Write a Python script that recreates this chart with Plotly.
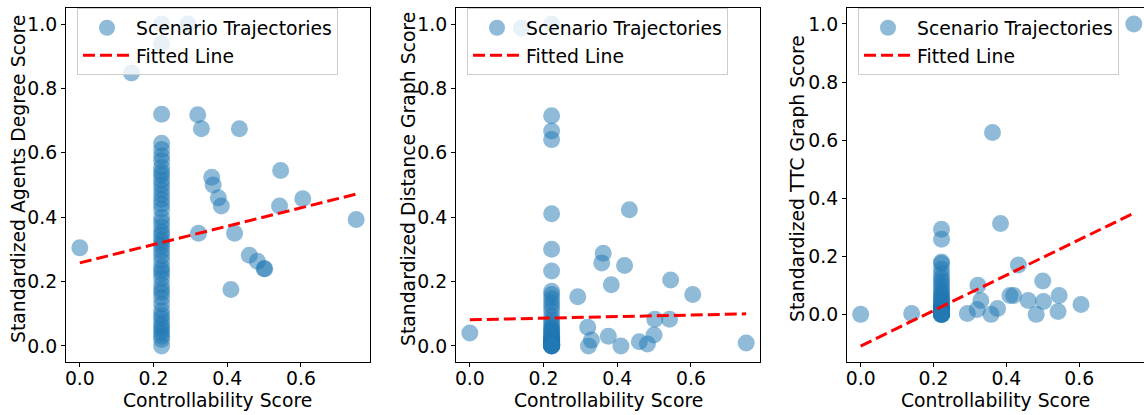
import plotly.graph_objects as go

# Controllability scores of the scenarios outside the dense column
controllability = [0.0, 0.14, 0.293, 0.32, 0.322, 0.33, 0.358, 0.362, 0.376, 0.384, 0.41,
                   0.42, 0.433, 0.46, 0.482, 0.5, 0.502, 0.542, 0.545, 0.605, 0.75]
agents_degree = [0.305, 0.848, 1.0, 0.718, 0.35, 0.675, 0.524, 0.5, 0.46, 0.435, 0.175,
                 0.35, 0.675, 0.282, 0.263, 0.24, 0.24, 0.435, 0.545, 0.457, 0.393]
distance_graph = [0.04, 0.988, 0.153, 0.058, 0.0, 0.018, 0.258, 0.288, 0.03, 0.19, 0.0,
                  0.25, 0.423, 0.013, 0.006, 0.034, 0.083, 0.083, 0.205, 0.16, 0.009]
ttc_graph = [0.0, 0.003, 0.003, 0.017, 0.10, 0.048, 0.0, 0.626, 0.02, 0.313, 0.065,
             0.065, 0.17, 0.048, 0.0, 0.115, 0.044, 0.01, 0.065, 0.034, 1.0]

# Scenarios that share the same controllability score
column_controllability = 0.222
agents_degree_column = [1.0, 0.94, 0.72, 0.63, 0.61, 0.59, 0.575, 0.555, 0.54, 0.53, 0.515,
                        0.50, 0.485, 0.47, 0.455, 0.44, 0.425, 0.40, 0.385, 0.37, 0.355,
                        0.345, 0.33, 0.32, 0.31, 0.295, 0.28, 0.265, 0.245, 0.235, 0.225,
                        0.21, 0.19, 0.175, 0.165, 0.15, 0.13, 0.11, 0.095, 0.085, 0.07,
                        0.06, 0.05, 0.04, 0.03, 0.02, 0.0]
distance_graph_column = [1.0, 0.715, 0.668, 0.641, 0.411, 0.30, 0.233, 0.17, 0.16, 0.147,
                         0.135, 0.123, 0.11, 0.092, 0.08, 0.07, 0.06, 0.055, 0.05, 0.045,
                         0.04, 0.035, 0.03, 0.028, 0.025, 0.022, 0.02, 0.018, 0.016, 0.014,
                         0.012, 0.01, 0.009, 0.008, 0.007, 0.006, 0.005, 0.004, 0.003,
                         0.003, 0.002, 0.002, 0.001, 0.001, 0.0, 0.0, 0.0]
ttc_graph_column = [0.293, 0.259, 0.18, 0.175, 0.155, 0.14, 0.125, 0.115, 0.105, 0.095,
                    0.085, 0.075, 0.07, 0.06, 0.055, 0.05, 0.045, 0.04, 0.035, 0.03,
                    0.028, 0.025, 0.022, 0.02, 0.018, 0.016, 0.014, 0.012, 0.01, 0.009,
                    0.008, 0.007, 0.006, 0.005, 0.004, 0.004, 0.003, 0.003, 0.002,
                    0.002, 0.001, 0.001, 0.001, 0.0, 0.0, 0.0, 0.0]

# Linear fit (intercept, slope) for each metric
fit_agents = (0.258, 0.285)
fit_distance = (0.081, 0.025)
fit_ttc = (-0.109, 0.61)

x_title = "Controllability Score"
y_titles = ["Standardized Agents Degree Score",
            "Standardized Distance Graph Score",
            "Standardized TTC Graph Score"]

panels = [
    (agents_degree, agents_degree_column, fit_agents),
    (distance_graph, distance_graph_column, fit_distance),
    (ttc_graph, ttc_graph_column, fit_ttc),
]

W, H = 1144, 415
FONT = "DejaVu Sans"
FS = 18.8
# pixel extents of each plotting area
x_px = [(66, 370), (456, 760), (847, 1144)]
top_px, bot_px = 8, 362
plot_h = bot_px - top_px
x_ranges = [(-0.0375, 0.7875), (-0.0375, 0.7875), (-0.0375, 0.778)]
y_ranges = [(-0.05, 1.05), (-0.05, 1.05), (-0.164, 1.055)]
# horizontal centre of each rotated y title
y_title_px = [18, 408, 797]

fig = go.Figure()
layout = {}
annotations = []
for i, (vals, col_vals, (b0, b1)) in enumerate(panels):
    n = "" if i == 0 else str(i + 1)
    legend_name = "legend" + n
    xs = controllability + [column_controllability] * len(col_vals)
    ys = vals + col_vals
    fig.add_trace(go.Scatter(
        x=xs, y=ys, mode="markers", name="Scenario Trajectories",
        xaxis="x" + n, yaxis="y" + n, legend=legend_name,
        marker=dict(size=17, color="#1f77b4", opacity=0.5, line=dict(width=0)),
    ))
    x_lo, x_hi = min(controllability), max(controllability)
    fig.add_trace(go.Scatter(
        x=[x_lo, x_hi], y=[b0 + b1 * x_lo, b0 + b1 * x_hi], mode="lines",
        name="Fitted Line", xaxis="x" + n, yaxis="y" + n, legend=legend_name,
        line=dict(color="red", width=3, dash="12px,5px"),
    ))
    x0, x1 = x_px[i]
    axis_common = dict(
        showgrid=False, zeroline=False, showline=True, linecolor="black", linewidth=1,
        ticks="outside", ticklen=4, tickwidth=1, tickcolor="black",
        tickfont=dict(family=FONT, size=FS, color="black"),
        tickformat=".1f",
    )
    layout["xaxis" + n] = dict(
        axis_common, domain=[x0 / W, x1 / W], range=list(x_ranges[i]),
        anchor="y" + n, mirror=True, tickvals=[0.0, 0.2, 0.4, 0.6],
        ticklabelstandoff=-5,
    )
    layout["yaxis" + n] = dict(
        axis_common, domain=[0, 1], range=list(y_ranges[i]), anchor="x" + n,
        mirror=(i < 2), tickvals=[0.0, 0.2, 0.4, 0.6, 0.8, 1.0],
    )
    layout[legend_name] = dict(
        x=(x0 + 11) / W, y=1.0,
        xanchor="left", yanchor="top",
        bgcolor="rgba(255,255,255,0.8)", bordercolor="#cccccc", borderwidth=1,
        font=dict(family=FONT, size=FS, color="black"),
        tracegroupgap=0, itemwidth=48,
    )
    annotations.append(dict(
        text=x_title, xref="paper", yref="paper",
        x=(x0 + x1) / 2 / W, y=(bot_px - 400) / plot_h,
        xanchor="center", yanchor="middle", showarrow=False,
        font=dict(family=FONT, size=FS, color="black"),
    ))
    annotations.append(dict(
        text=y_titles[i], xref="paper", yref="paper", textangle=-90,
        x=y_title_px[i] / W, y=(bot_px - 179) / plot_h,
        xanchor="center", yanchor="middle", showarrow=False,
        font=dict(family=FONT, size=FS, color="black"),
    ))

fig.update_layout(
    width=W, height=H, showlegend=True,
    margin=dict(l=0, r=0, t=top_px, b=H - bot_px, autoexpand=False),
    paper_bgcolor="white", plot_bgcolor="white",
    font=dict(family=FONT, size=FS, color="black"),
    annotations=annotations,
    **layout,
)
fig.write_html("out.html")
